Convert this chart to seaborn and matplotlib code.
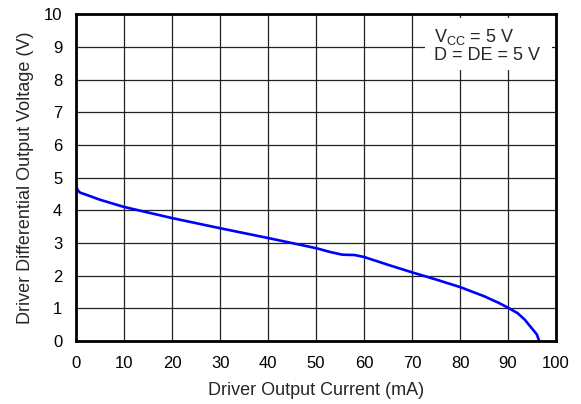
import numpy as np
import pandas as pd
import matplotlib
matplotlib.use("Agg")
import matplotlib.pyplot as plt
import seaborn as sns
from matplotlib.patches import Rectangle

# Curva
corrente_ma = [0, 0.3, 0.8, 2, 5, 10, 20, 30, 40, 50, 53, 55.5, 58, 60, 65, 70,
               75, 80, 85, 88, 90, 92, 93.5, 95, 96, 96.5]
tensao_v = [4.75, 4.62, 4.54, 4.48, 4.32, 4.10, 3.76, 3.45, 3.15, 2.84, 2.72, 2.64,
            2.63, 2.57, 2.33, 2.10, 1.88, 1.65, 1.37, 1.17, 1.02, 0.85, 0.65, 0.38,
            0.20, 0.0]
x_ticks = list(range(0, 101, 10))
y_ticks = list(range(0, 11))

dados = pd.DataFrame({"I": corrente_ma, "V": tensao_v})

sns.set_style("white")
plt.rcParams["font.family"] = ["Liberation Sans", "DejaVu Sans"]
plt.rcParams["mathtext.fontset"] = "custom"
plt.rcParams["mathtext.rm"] = "Liberation Sans"

fig = plt.figure(figsize=(5.81, 4.04), dpi=100)
ax = fig.add_axes([0.131, 0.156, 0.826, 0.809])

sns.lineplot(data=dados, x="I", y="V", ax=ax, color="#0000ff", linewidth=1.9,
             sort=False, zorder=3)

ax.set_xlim(0, 100)
ax.set_ylim(0, 10)
ax.set_xticks(x_ticks)
ax.set_yticks(y_ticks)
ax.grid(True, color="#222222", linewidth=0.9)
ax.set_axisbelow(True)
ax.tick_params(axis="x", length=0, labelsize=12, pad=11, colors="black")
ax.tick_params(axis="y", length=0, labelsize=12, pad=10, colors="black")

for lado in ax.spines.values():
    lado.set_visible(True)
    lado.set_color("black")
    lado.set_linewidth(2)
    lado.set_zorder(5)

# Caixa de condições
ax.add_patch(Rectangle((0.727, 0.829), 0.265, 0.159, transform=ax.transAxes,
                       facecolor="white", edgecolor="none", zorder=2))
ax.text(0.746, 0.96, "V$_\\mathregular{CC}$ = 5 V\nD = DE = 5 V",
        transform=ax.transAxes, ha="left", va="top", fontsize=13,
        linespacing=0.95, zorder=4)

ax.set_xlabel("Driver Output Current (mA)", fontsize=13, labelpad=8)
ax.set_ylabel("Driver Differential Output Voltage (V)", fontsize=13, labelpad=7)

fig.savefig("out.png", dpi=100)
